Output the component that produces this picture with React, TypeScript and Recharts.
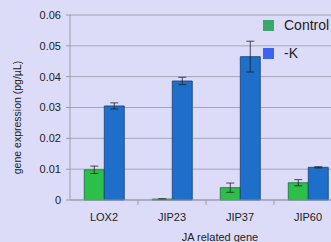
import React from 'react';
import { BarChart, Bar, XAxis, YAxis, CartesianGrid, ErrorBar } from 'recharts';

const genes = ['LOX2', 'JIP23', 'JIP37', 'JIP60'];
const control = [0.0098, 0.0003, 0.004, 0.0056];
const controlErr = [0.0012, 0.0001, 0.0015, 0.001];
const minusK = [0.0305, 0.0386, 0.0465, 0.0106];
const minusKErr = [0.001, 0.0012, 0.005, 0.0002];
const yTicks = [0, 0.01, 0.02, 0.03, 0.04, 0.05, 0.06];
const seriesNames = ['Control', '-K'];

const data = genes.map((g, i) => ({
  gene: g,
  control: control[i],
  controlErr: controlErr[i],
  minusK: minusK[i],
  minusKErr: minusKErr[i],
}));

const FONT = '"Liberation Sans", Arial, sans-serif';

const GeneTick = (props: any) => {
  const { x, y, payload, index } = props;
  return (
    <g>
      {index > 0 && <line x1={x - 34} x2={x - 34} y1={y - 8} y2={y - 3} stroke="#9a9aaa" />}
      <text x={x} y={y + 13} textAnchor="middle" fontSize={11} fill="#222" fontFamily={FONT}>
        {payload.value}
      </text>
    </g>
  );
};

// legend drawn over the chart so it does not shrink the plot
const LegendBox = () => (
  <div style={{ position: 'absolute', left: 263, top: 15, fontFamily: FONT, fontSize: 14, color: '#222', whiteSpace: 'nowrap' }}>
    <div style={{ display: 'flex', alignItems: 'center', height: 20, marginBottom: 8 }}>
      <span style={{ width: 11, height: 11, background: '#3aa86a', marginRight: 10 }} />
      {seriesNames[0]}
    </div>
    <div style={{ display: 'flex', alignItems: 'center', height: 20 }}>
      <span style={{ width: 11, height: 11, background: '#3c62ee', marginRight: 10 }} />
      {seriesNames[1]}
    </div>
  </div>
);

const App: React.FC = () => {
  return (
    <div style={{ position: 'fixed', left: 0, top: 0, width: 331, height: 242, overflow: 'hidden', background: '#dcdcf8' }}>
      <BarChart
        width={360}
        height={242}
        data={data}
        margin={{ top: 15, right: 18, left: 0, bottom: 12 }}
        barCategoryGap="21%"
        barGap={0}
      >
        <CartesianGrid vertical={false} stroke="#a4a4b8" />
        <XAxis
          dataKey="gene"
          tick={<GeneTick />}
          tickLine={false}
          axisLine={{ stroke: '#9a9aaa' }}
          height={30}
          interval={0}
          label={{ value: 'JA  related gene', position: 'insideBottom', dx: 14, dy: 16, fontSize: 11, fill: '#222', fontFamily: FONT }}
        />
        <YAxis
          width={70}
          domain={[0, 0.06]}
          ticks={yTicks}
          tickFormatter={(v: number) => (v === 0 ? '0' : v.toFixed(2))}
          tick={{ fontSize: 11, fill: '#222', fontFamily: FONT }}
          tickLine={{ stroke: '#9a9aaa' }}
          tickSize={4}
          tickMargin={5}
          axisLine={{ stroke: '#9a9aaa' }}
          label={{ value: 'gene expression (pg/µL)', angle: -90, position: 'insideLeft', dx: 12, dy: 10, fontSize: 10.5, fill: '#222', fontFamily: FONT, style: { textAnchor: 'middle' } }}
        />
        <Bar dataKey="control" name={seriesNames[0]} fill="#2cc04a" stroke="#1c6a3a" strokeWidth={0.8} isAnimationActive={false}>
          <ErrorBar dataKey="controlErr" width={4} stroke="#222" strokeWidth={0.8} />
        </Bar>
        <Bar dataKey="minusK" name={seriesNames[1]} fill="#1d6fca" stroke="#173f78" strokeWidth={0.8} isAnimationActive={false}>
          <ErrorBar dataKey="minusKErr" width={4} stroke="#222" strokeWidth={0.8} />
        </Bar>
      </BarChart>
      <LegendBox />
    </div>
  );
};

export default App;
